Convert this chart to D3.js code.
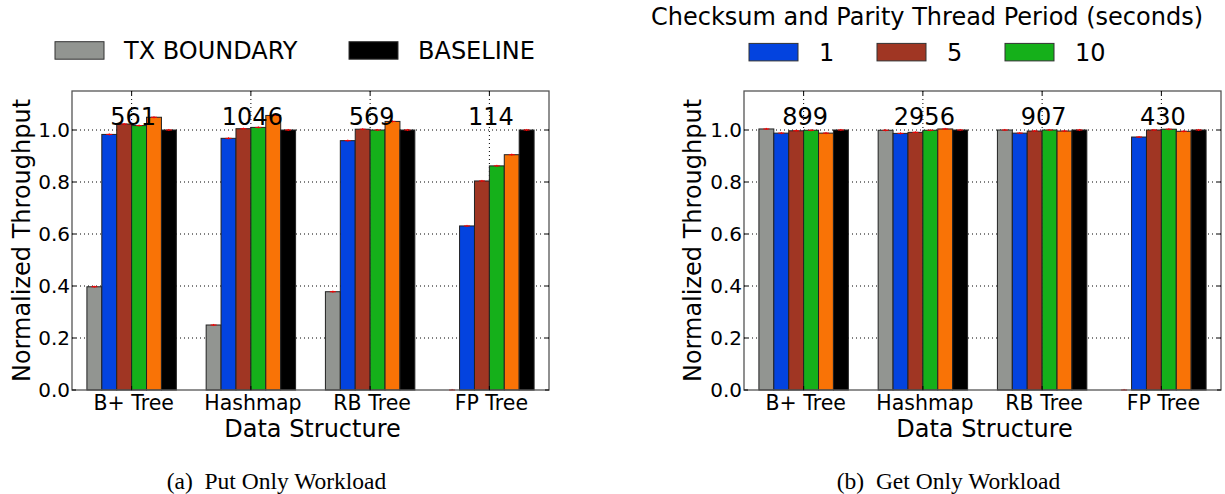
<!DOCTYPE html>
<html><head><meta charset="utf-8">
<script src="https://cdn.jsdelivr.net/npm/d3@7"></script>
<style>
body{margin:0;background:#fff;}
svg{display:block;}
text{font-family:"DejaVu Sans",sans-serif;fill:#000;}
.cap{font-family:"Liberation Serif","Times New Roman",serif;}
</style></head>
<body>
<svg id="chart" width="1225" height="494"></svg>
<script>
// ---- data ----
const categories = ["B+ Tree", "Hashmap", "RB Tree", "FP Tree"];
const seriesKeys = ["txBoundary", "p1", "p5", "p10", "pOrange", "baseline"];
const seriesColors = ["#929591", "#0343df", "#a03623", "#15b01a", "#f97306", "#000000"];
const yTicks = [0.0, 0.2, 0.4, 0.6, 0.8, 1.0];

// Put only workload
const putTx       = [0.397, 0.250, 0.378, 0.000];
const putP1       = [0.983, 0.968, 0.959, 0.631];
const putP5       = [1.023, 1.005, 1.003, 0.804];
const putP10      = [1.017, 1.010, 1.000, 0.862];
const putPOrange  = [1.049, 1.056, 1.033, 0.905];
const putBaseline = [1.000, 1.000, 1.000, 1.000];
const putLabels   = ["561", "1046", "569", "114"];

// Get only workload
const getTx       = [1.004, 0.999, 1.000, 0.000];
const getP1       = [0.988, 0.987, 0.988, 0.973];
const getP5       = [0.997, 0.991, 0.996, 1.000];
const getP10      = [0.999, 0.999, 1.000, 1.003];
const getPOrange  = [0.988, 1.004, 0.996, 0.995];
const getBaseline = [1.000, 1.000, 1.000, 1.000];
const getLabels   = ["899", "2956", "907", "430"];

const errSize = 0.004;
const labelLevel = 1.02;

const leftLegend = [{name: "TX BOUNDARY", color: seriesColors[0]}, {name: "BASELINE", color: seriesColors[5]}];
const rightLegend = [{name: "1", color: seriesColors[1]}, {name: "5", color: seriesColors[2]}, {name: "10", color: seriesColors[3]}];
const rightLegendTitle = "Checksum and Parity Thread Period (seconds)";

// ---- drawing ----
const svg = d3.select("#chart");
const yTop = 91, yBottom = 390, pw = 477;

function panel(x0, series, labels, caption, ylabelX) {
  const g = svg.append("g");
  const x = d3.scaleBand().domain(categories).range([x0, x0 + pw]).padding(0);
  const bw = x.bandwidth();
  const xs = d3.scaleBand().domain(seriesKeys).range([bw / 2 - 3 * 0.125 * bw, bw / 2 + 3 * 0.125 * bw]).padding(0);
  const y = d3.scaleLinear().domain([0, 1.15]).range([yBottom, yTop]);

  // grid
  g.selectAll(".hg").data(yTicks.filter(d => d > 0)).enter().append("line")
    .attr("x1", x0).attr("x2", x0 + pw).attr("y1", d => y(d)).attr("y2", d => y(d))
    .attr("stroke", "#000").attr("stroke-width", 1).attr("stroke-dasharray", "1,3");
  g.selectAll(".vg").data(categories).enter().append("line")
    .attr("x1", d => x(d) + bw / 2).attr("x2", d => x(d) + bw / 2).attr("y1", yTop).attr("y2", yBottom)
    .attr("stroke", "#000").attr("stroke-width", 1).attr("stroke-dasharray", "1,3");

  // bars
  seriesKeys.forEach((k, si) => {
    const vals = series[si];
    g.selectAll(".b" + si).data(categories).enter().append("rect")
      .attr("x", d => x(d) + xs(k))
      .attr("width", xs.bandwidth())
      .attr("y", (d, i) => y(vals[i]))
      .attr("height", (d, i) => yBottom - y(vals[i]))
      .attr("fill", seriesColors[si])
      .attr("stroke", "#222")
      .attr("stroke-width", 1)
      .style("display", (d, i) => vals[i] > 0 ? null : "none");
    // error bars
    categories.forEach((c, i) => {
      const cx = x(c) + xs(k) + xs.bandwidth() / 2;
      g.append("line").attr("x1", cx - 3).attr("x2", cx + 3).attr("y1", y(vals[i])).attr("y2", y(vals[i]))
        .attr("stroke", "#ff0000").attr("stroke-width", 1);
      g.append("line").attr("x1", cx).attr("x2", cx).attr("y1", y(vals[i] + errSize)).attr("y2", y(Math.max(0, vals[i] - errSize)))
        .attr("stroke", "#ff0000").attr("stroke-width", 1);
    });
  });

  // frame
  g.append("rect").attr("x", x0).attr("y", yTop).attr("width", pw).attr("height", yBottom - yTop)
    .attr("fill", "none").attr("stroke", "#555").attr("stroke-width", 1.3);
  // ticks (inside)
  yTicks.forEach(t => {
    g.append("line").attr("x1", x0).attr("x2", x0 + 4).attr("y1", y(t)).attr("y2", y(t)).attr("stroke", "#000");
    g.append("line").attr("x1", x0 + pw - 4).attr("x2", x0 + pw).attr("y1", y(t)).attr("y2", y(t)).attr("stroke", "#000");
  });
  categories.forEach(c => {
    const cx = x(c) + bw / 2;
    g.append("line").attr("x1", cx).attr("x2", cx).attr("y1", yBottom).attr("y2", yBottom - 4).attr("stroke", "#000");
    g.append("line").attr("x1", cx).attr("x2", cx).attr("y1", yTop).attr("y2", yTop + 4).attr("stroke", "#000");
  });

  // y tick labels
  g.selectAll(".yl").data(yTicks).enter().append("text")
    .attr("x", x0 - 2).attr("y", d => y(d) + 7).attr("text-anchor", "end")
    .attr("font-size", 20).text(d => d.toFixed(1));
  // x tick labels
  g.selectAll(".xl").data(categories).enter().append("text")
    .attr("x", d => x(d) + bw / 2 + 2).attr("y", 410).attr("text-anchor", "middle")
    .attr("font-size", 20.5).text(d => d);
  // count labels
  g.selectAll(".nl").data(labels).enter().append("text")
    .attr("x", (d, i) => x(categories[i]) + bw / 2 + 1.5).attr("y", y(labelLevel)).attr("text-anchor", "middle")
    .attr("font-size", 24).text(d => d);
  // axis titles
  g.append("text").attr("x", x0 + pw / 2 + 2).attr("y", 437).attr("text-anchor", "middle")
    .attr("font-size", 24).text("Data Structure");
  g.append("text").attr("transform", `translate(${ylabelX},${(yTop + yBottom) / 2}) rotate(-90)`)
    .attr("text-anchor", "middle").attr("font-size", 24).text("Normalized Throughput");
  // caption
  g.append("text").attr("class", "cap").attr("x", x0 + pw / 2 - 34).attr("y", 489)
    .attr("text-anchor", "middle").attr("font-size", 23.5).attr("xml:space", "preserve").text(caption);
}

panel(72, [putTx, putP1, putP5, putP10, putPOrange, putBaseline], putLabels, "(a)  Put Only Workload", 29.5);
panel(744, [getTx, getP1, getP5, getP10, getPOrange, getBaseline], getLabels, "(b)  Get Only Workload", 700.5);

// legends
function legend(items, xs, y, textGap) {
  items.forEach((it, i) => {
    svg.append("rect").attr("x", xs[i]).attr("y", y).attr("width", 49).attr("height", 17.5)
      .attr("fill", it.color).attr("stroke", "#333").attr("stroke-width", 1);
    svg.append("text").attr("x", xs[i] + 49 + textGap).attr("y", y + 17.5).attr("font-size", 24).text(it.name);
  });
}
legend(leftLegend, [55, 349], 41.7, 20);
legend(rightLegend, [749, 877, 1005], 43.4, 21);
svg.append("text").attr("x", 927).attr("y", 25).attr("text-anchor", "middle").attr("font-size", 24).text(rightLegendTitle);
</script>
</body></html>
